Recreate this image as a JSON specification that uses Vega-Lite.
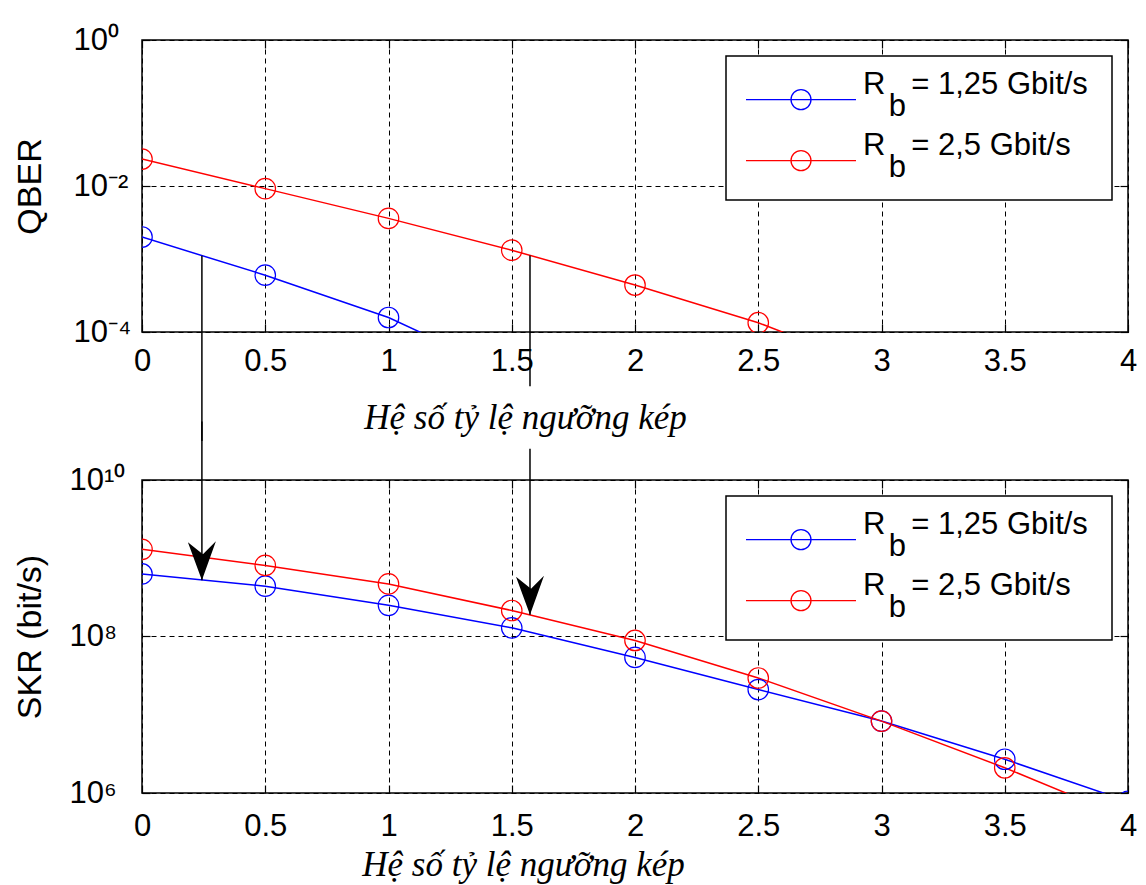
{
  "$schema": "https://vega.github.io/schema/vega-lite/v6.json",
  "background": "white",
  "padding": {"left": 12, "top": 23, "right": 5, "bottom": 5},
  "bounds": "flush",
  "spacing": 148,
  "config": {
    "font": "Liberation Sans",
    "view": {"stroke": "black", "strokeWidth": 1.5},
    "axis": {
      "domain": false,
      "grid": true, "gridColor": "black", "gridDash": [5, 4], "gridWidth": 1, "gridOpacity": 1,
      "ticks": true, "tickColor": "black", "tickSize": -8, "tickWidth": 1.2,
      "labelFont": "Liberation Sans", "labelFontSize": 31, "labelColor": "black",
      "labelOverlap": false, "labelFlush": false,
      "titleFont": "Liberation Sans", "titleFontWeight": "normal", "titleColor": "black"
    },
    "legend": {
      "orient": "top-right", "offset": 16, "padding": 17,
      "fillColor": "white", "strokeColor": "black", "strokeWidth": 1.5,
      "symbolType": "M-2.75,0.28L2.75,0.28M-0.5,0.28A0.5,0.5 0 1,1 0.5,0.28A0.5,0.5 0 1,1 -0.5,0.28",
      "symbolSize": 1600, "symbolStrokeWidth": 1.3, "symbolFillColor": "transparent",
      "symbolOffset": 37, "labelOffset": 41,
      "labelFont": "Liberation Sans", "labelFontSize": 31, "labelColor": "black",
      "labelBaseline": "alphabetic", "labelLimit": 600, "rowPadding": 8
    },
    "style": {"guide-label": {"lineHeight": 22}}
  },
  "resolve": {
    "scale": {"x": "independent", "y": "independent", "color": "independent"},
    "legend": {"color": "independent"}
  },
  "vconcat": [
    {
      "width": 986,
      "height": 292,
      "data": {"values": [
        {"k": 0, "series": "Rb = 1,25 Gbit/s", "qber": 0.0020},
        {"k": 0.5, "series": "Rb = 1,25 Gbit/s", "qber": 0.00060},
        {"k": 1, "series": "Rb = 1,25 Gbit/s", "qber": 0.000158},
        {"k": 1.5, "series": "Rb = 1,25 Gbit/s", "qber": 0.000026},
        {"k": 0, "series": "Rb = 2,5 Gbit/s", "qber": 0.0234},
        {"k": 0.5, "series": "Rb = 2,5 Gbit/s", "qber": 0.0092},
        {"k": 1, "series": "Rb = 2,5 Gbit/s", "qber": 0.0036},
        {"k": 1.5, "series": "Rb = 2,5 Gbit/s", "qber": 0.00132},
        {"k": 2, "series": "Rb = 2,5 Gbit/s", "qber": 0.00044},
        {"k": 2.5, "series": "Rb = 2,5 Gbit/s", "qber": 0.000134},
        {"k": 3, "series": "Rb = 2,5 Gbit/s", "qber": 0.000030}
      ]},
      "resolve": {"axis": {"x": "independent", "y": "independent"}},
      "layer": [
        {
          "mark": {"type": "line", "clip": true, "strokeWidth": 1.5},
          "encoding": {
            "x": {"field": "k", "type": "quantitative",
                  "scale": {"domain": [0, 4], "nice": false, "zero": false},
                  "axis": {"orient": "bottom", "values": [0, 0.5, 1, 1.5, 2, 2.5, 3, 3.5, 4], "format": "~g",
                           "labelPadding": 22,
                           "title": "Hệ số tỷ lệ ngưỡng kép", "titleFont": "Liberation Serif", "titleFontStyle": "italic",
                           "titleFontSize": 35, "titleX": 383, "titleY": 96, "titleAlign": "center", "titleBaseline": "alphabetic"}},
            "y": {"field": "qber", "type": "quantitative",
                  "scale": {"type": "log", "domain": [0.0001, 1], "nice": false},
                  "axis": {"orient": "left", "values": [0.0001, 0.01, 1],
                           "labelExpr": "datum.value > 0.5 ? '10⁰' : datum.value > 0.005 ? '10⁻²' : '10⁻⁴'",
                           "labelAlign": "left", "labelBaseline": "middle", "labelPadding": 77,
                           "minExtent": 71, "maxExtent": 71,
                           "title": "QBER", "titleFontSize": 34, "titlePadding": 24}},
            "color": {"field": "series", "type": "nominal",
                      "scale": {"domain": ["Rb = 1,25 Gbit/s", "Rb = 2,5 Gbit/s"], "range": ["#0000ff", "#ff0000"]},
                      "legend": {"title": null, "labelExpr": "[replace(datum.label, 'Rb', 'R\u2007') + '\u2009\u200b', '\u200b\u2007\u00a0b']"}}
          }
        },
        {
          "mark": {"type": "point", "shape": "circle", "filled": false, "size": 420, "strokeWidth": 1.2, "opacity": 1, "clip": true},
          "encoding": {
            "x": {"field": "k", "type": "quantitative",
                  "scale": {"domain": [0, 4], "nice": false, "zero": false},
                  "axis": {"orient": "top", "values": [0, 0.5, 1, 1.5, 2, 2.5, 3, 3.5, 4], "labels": false, "grid": false, "title": null}},
            "y": {"field": "qber", "type": "quantitative",
                  "scale": {"type": "log", "domain": [0.0001, 1], "nice": false},
                  "axis": {"orient": "right", "values": [0.0001, 0.01, 1], "labels": false, "grid": false, "title": null}},
            "color": {"field": "series", "type": "nominal",
                      "scale": {"domain": ["Rb = 1,25 Gbit/s", "Rb = 2,5 Gbit/s"], "range": ["#0000ff", "#ff0000"]},
                      "legend": {"title": null, "labelExpr": "[replace(datum.label, 'Rb', 'R\u2007') + '\u2009\u200b', '\u200b\u2007\u00a0b']"}}
          }
        },
        {
          "data": {"values": [
            {"k": 0.243, "y": 0.00111, "y2": 0.0000032},
            {"k": 1.574, "y": 0.00112, "y2": 0.000018}
          ]},
          "mark": {"type": "rule", "color": "black", "strokeWidth": 1.5, "clip": false},
          "encoding": {
            "x": {"field": "k", "type": "quantitative", "scale": {"domain": [0, 4], "nice": false, "zero": false}, "axis": null},
            "y": {"field": "y", "type": "quantitative", "scale": {"type": "log", "domain": [0.0001, 1], "nice": false}, "axis": null},
            "y2": {"field": "y2"}
          }
        }
      ]
    },
    {
      "width": 986,
      "height": 313,
      "data": {"values": [
        {"k": 0, "series": "Rb = 1,25 Gbit/s", "skr": 630000000},
        {"k": 0.5, "series": "Rb = 1,25 Gbit/s", "skr": 440000000},
        {"k": 1, "series": "Rb = 1,25 Gbit/s", "skr": 250000000},
        {"k": 1.5, "series": "Rb = 1,25 Gbit/s", "skr": 129000000},
        {"k": 2, "series": "Rb = 1,25 Gbit/s", "skr": 54000000},
        {"k": 2.5, "series": "Rb = 1,25 Gbit/s", "skr": 21000000},
        {"k": 3, "series": "Rb = 1,25 Gbit/s", "skr": 8300000},
        {"k": 3.5, "series": "Rb = 1,25 Gbit/s", "skr": 2700000},
        {"k": 4, "series": "Rb = 1,25 Gbit/s", "skr": 780000},
        {"k": 0, "series": "Rb = 2,5 Gbit/s", "skr": 1300000000},
        {"k": 0.5, "series": "Rb = 2,5 Gbit/s", "skr": 810000000},
        {"k": 1, "series": "Rb = 2,5 Gbit/s", "skr": 470000000},
        {"k": 1.5, "series": "Rb = 2,5 Gbit/s", "skr": 215000000},
        {"k": 2, "series": "Rb = 2,5 Gbit/s", "skr": 89000000},
        {"k": 2.5, "series": "Rb = 2,5 Gbit/s", "skr": 29500000},
        {"k": 3, "series": "Rb = 2,5 Gbit/s", "skr": 8300000},
        {"k": 3.5, "series": "Rb = 2,5 Gbit/s", "skr": 2100000},
        {"k": 4, "series": "Rb = 2,5 Gbit/s", "skr": 470000}
      ]},
      "resolve": {"axis": {"x": "independent", "y": "independent"}},
      "layer": [
        {
          "mark": {"type": "line", "clip": true, "strokeWidth": 1.5},
          "encoding": {
            "x": {"field": "k", "type": "quantitative",
                  "scale": {"domain": [0, 4], "nice": false, "zero": false},
                  "axis": {"orient": "bottom", "values": [0, 0.5, 1, 1.5, 2, 2.5, 3, 3.5, 4], "format": "~g",
                           "labelPadding": 26,
                           "title": "Hệ số tỷ lệ ngưỡng kép", "titleFont": "Liberation Serif", "titleFontStyle": "italic",
                           "titleFontSize": 35, "titleX": 381, "titleY": 82, "titleAlign": "center", "titleBaseline": "alphabetic"}},
            "y": {"field": "skr", "type": "quantitative",
                  "scale": {"type": "log", "domain": [1000000, 10000000000], "nice": false},
                  "axis": {"orient": "left", "values": [1000000, 100000000, 10000000000],
                           "labelExpr": "datum.value > 1000000000 ? '10¹⁰' : datum.value > 10000000 ? '10⁸' : '10⁶'",
                           "labelAlign": "left", "labelBaseline": "middle", "labelPadding": 81,
                           "minExtent": 71, "maxExtent": 71,
                           "title": "SKR (bit/s)", "titleFontSize": 34, "titlePadding": 24}},
            "color": {"field": "series", "type": "nominal",
                      "scale": {"domain": ["Rb = 1,25 Gbit/s", "Rb = 2,5 Gbit/s"], "range": ["#0000ff", "#ff0000"]},
                      "legend": {"title": null, "labelExpr": "[replace(datum.label, 'Rb', 'R\u2007') + '\u2009\u200b', '\u200b\u2007\u00a0b']"}}
          }
        },
        {
          "mark": {"type": "point", "shape": "circle", "filled": false, "size": 420, "strokeWidth": 1.2, "opacity": 1, "clip": true},
          "encoding": {
            "x": {"field": "k", "type": "quantitative",
                  "scale": {"domain": [0, 4], "nice": false, "zero": false},
                  "axis": {"orient": "top", "values": [0, 0.5, 1, 1.5, 2, 2.5, 3, 3.5, 4], "labels": false, "grid": false, "title": null}},
            "y": {"field": "skr", "type": "quantitative",
                  "scale": {"type": "log", "domain": [1000000, 10000000000], "nice": false},
                  "axis": {"orient": "right", "values": [1000000, 100000000, 10000000000], "labels": false, "grid": false, "title": null}},
            "color": {"field": "series", "type": "nominal",
                      "scale": {"domain": ["Rb = 1,25 Gbit/s", "Rb = 2,5 Gbit/s"], "range": ["#0000ff", "#ff0000"]},
                      "legend": {"title": null, "labelExpr": "[replace(datum.label, 'Rb', 'R\u2007') + '\u2009\u200b', '\u200b\u2007\u00a0b']"}}
          }
        },
        {
          "data": {"values": [
            {"k": 0.243, "y": 525000000, "y2": 56000000000},
            {"k": 1.574, "y": 190000000, "y2": 25000000000}
          ]},
          "mark": {"type": "rule", "color": "black", "strokeWidth": 1.5, "clip": false},
          "encoding": {
            "x": {"field": "k", "type": "quantitative", "scale": {"domain": [0, 4], "nice": false, "zero": false}, "axis": null},
            "y": {"field": "y", "type": "quantitative", "scale": {"type": "log", "domain": [1000000, 10000000000], "nice": false}, "axis": null},
            "y2": {"field": "y2"}
          }
        },
        {
          "data": {"values": [
            {"k": 0.243, "y": 525000000},
            {"k": 1.574, "y": 190000000}
          ]},
          "mark": {"type": "point", "shape": "M0,0L-1.4,-3.8L0.1,-2.6L1.4,-3.9Z", "size": 400, "filled": true, "color": "black", "opacity": 1, "strokeWidth": 0},
          "encoding": {
            "x": {"field": "k", "type": "quantitative", "scale": {"domain": [0, 4], "nice": false, "zero": false}, "axis": null},
            "y": {"field": "y", "type": "quantitative", "scale": {"type": "log", "domain": [1000000, 10000000000], "nice": false}, "axis": null}
          }
        }
      ]
    }
  ]
}
